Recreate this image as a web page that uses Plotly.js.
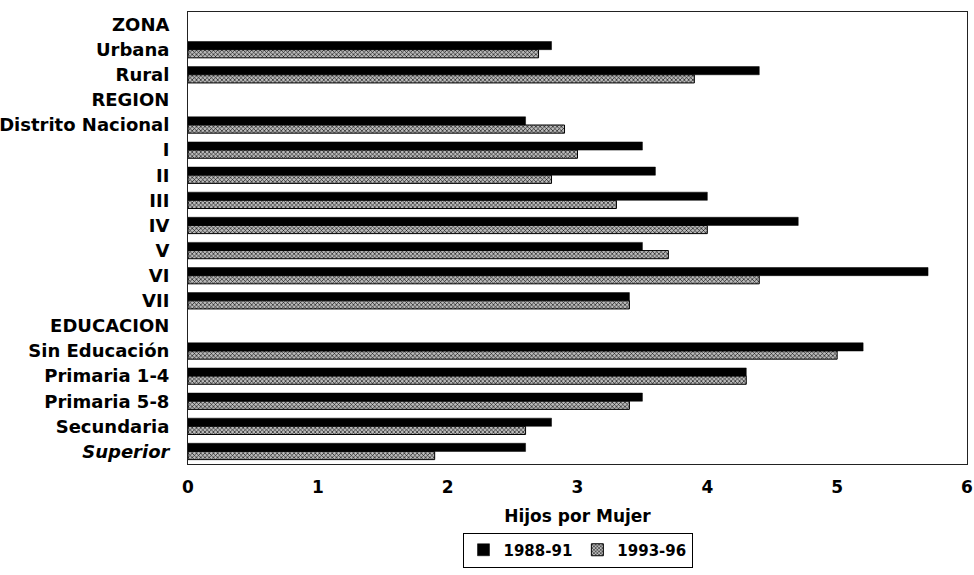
<!DOCTYPE html>
<html><head><meta charset="utf-8">
<script src="https://cdn.plot.ly/plotly-3.0.1.min.js"></script>
<style>body{margin:0;background:#fff}#c{width:974px;height:575px}</style>
</head><body><div id="c"></div>
<script>
const categories = ["ZONA","Urbana","Rural","REGION","Distrito Nacional","I","II","III","IV","V","VI","VII","EDUCACION","Sin Educación","Primaria 1-4","Primaria 5-8","Secundaria","Superior"];
const tickLabels = ["ZONA","Urbana","Rural","REGION","Distrito Nacional","I","II","III","IV","V","VI","VII","EDUCACION","Sin Educación","Primaria 1-4","Primaria 5-8","Secundaria","<i>Superior</i>"];
const s1988 = [null,2.8,4.4,null,2.6,3.5,3.6,4.0,4.7,3.5,5.7,3.4,null,5.2,4.3,3.5,2.8,2.6];
const s1993 = [null,2.7,3.9,null,2.9,3.0,2.8,3.3,4.0,3.7,4.4,3.4,null,5.0,4.3,3.4,2.6,1.9];
const seriesNames = ["1988-91","1993-96"];
const xTicks = [0,1,2,3,4,5,6];

const fam = "DejaVu Sans, Liberation Sans, Arial, sans-serif";
const f = (s) => ({family:fam, size:s, color:"#000", weight:"bold"});
const traces = [
  {type:"bar", orientation:"h", name:seriesNames[0], y:categories, x:s1988,
   marker:{color:"#000", line:{color:"#000", width:0.5}}},
  {type:"bar", orientation:"h", name:seriesNames[1], y:categories, x:s1993,
   marker:{color:"#999", line:{color:"#000", width:1},
     pattern:{shape:"x", size:3, solidity:0.35, fgcolor:"#000", bgcolor:"#bbb"}}}
];
const layout = {
  width:974, height:575,
  margin:{l:188, r:7, t:12, b:105},
  paper_bgcolor:"#fff", plot_bgcolor:"#fff",
  font:f(16),
  barmode:"group", bargap:0.35, bargroupgap:0,
  showlegend:true,
  legend:{orientation:"h", x:0.5, xanchor:"center", y:-0.229, yanchor:"bottom",
    bordercolor:"#000", borderwidth:1, font:f(15), itemwidth:30, tracegroupgap:0},
  xaxis:{range:[0,6], tickvals:xTicks, showgrid:false, zeroline:false,
    showline:true, mirror:true, linecolor:"#222", linewidth:1,
    ticks:"", tickfont:f(17), ticklen:0, ticklabelstandoff:8, ticklabeloverflow:"allow",
    title:{text:"Hijos por Mujer", font:f(17), standoff:13}},
  yaxis:{type:"category", autorange:"reversed", tickvals:categories, ticktext:tickLabels,
    showgrid:false, showline:true, mirror:true, linecolor:"#222", linewidth:1,
    ticks:"", tickfont:f(18), ticklabelstandoff:14}
};
Plotly.newPlot("c", traces, layout, {staticPlot:true});
</script></body></html>
